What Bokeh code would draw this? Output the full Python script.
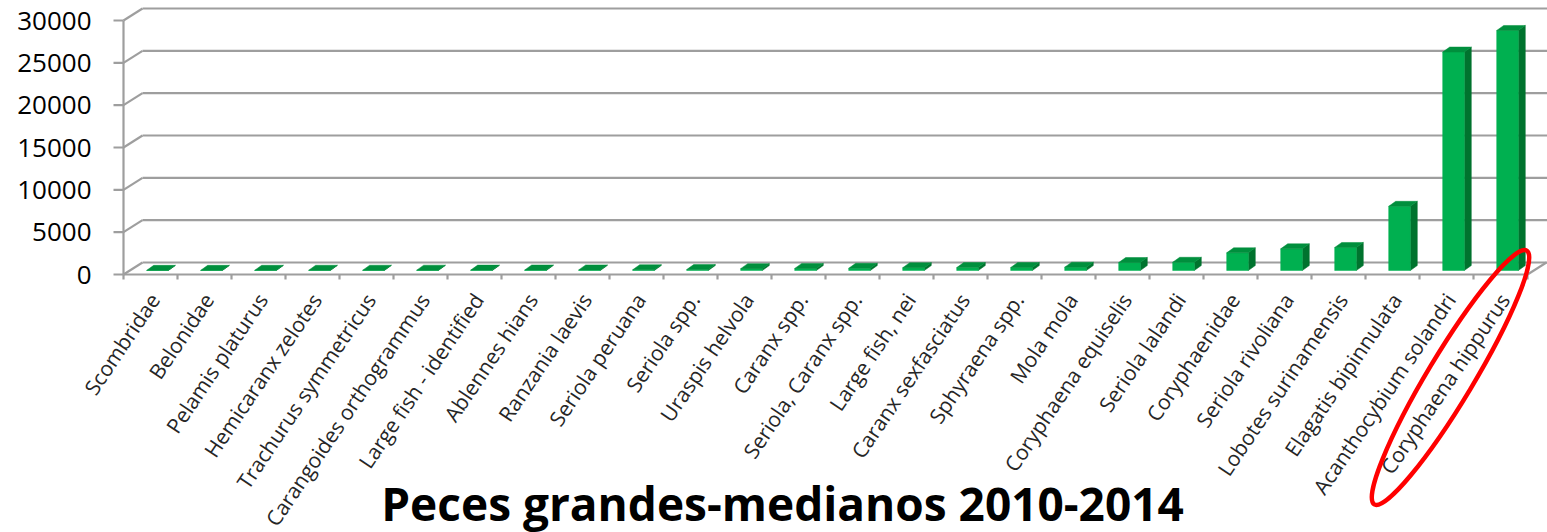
import math
import numpy as np
from bokeh.plotting import figure
from bokeh.models import ColumnDataSource, Range1d
from bokeh.core.properties import value
from bokeh.embed import file_html
from bokeh.resources import INLINE

# ---------------- data ----------------
categories = [
    "Scombridae", "Belonidae", "Pelamis platurus", "Hemicaranx zelotes",
    "Trachurus symmetricus", "Carangoides orthogrammus", "Large fish - identified",
    "Ablennes hians", "Ranzania laevis", "Seriola peruana", "Seriola spp.",
    "Uraspis helvola", "Caranx spp.", "Seriola, Caranx spp.", "Large fish, nei",
    "Caranx sexfasciatus", "Sphyraena spp.", "Mola mola", "Coryphaena equiselis",
    "Seriola lalandi", "Coryphaenidae", "Seriola rivoliana", "Lobotes surinamensis",
    "Elagatis bipinnulata", "Acanthocybium solandri", "Coryphaena hippurus",
]
values = [15, 20, 25, 30, 35, 40, 45, 60, 70, 90, 110, 220, 240, 260, 330, 340,
          350, 390, 940, 970, 2090, 2560, 2720, 7580, 25800, 28350]
y_ticks = [0, 5000, 10000, 15000, 20000, 25000, 30000]
y_tick_labels = [str(v) for v in y_ticks]
title_text = "Peces grandes-medianos  2010-2014"
highlight = "Coryphaena hippurus"

# ---------------- geometry (pixels) ----------------
W, H = 1547, 532
AX_LEFT = 123                 # pixel column of the front value axis
AX_BOTTOM = 274               # pixel row of value 0 on the front plane
PX_CAT = 54.0                 # pixels per category
VPP = 30000 / 254.0           # value per pixel
UPP = 1 / PX_CAT              # category units per pixel
XA = -0.5                     # data x of the front value axis
x0 = XA - AX_LEFT * UPP
x1 = x0 + W * UPP
y_lo = -(H - AX_BOTTOM) * VPP
y_hi = AX_BOTTOM * VPP

GRAY = "#9E9E9E"
LW = 2.2
FRONT, SIDE, TOP = "#00B050", "#00732E", "#008F3D"

p = figure(width=W, height=H, x_range=Range1d(x0, x1), y_range=Range1d(y_lo, y_hi),
           output_backend="svg", toolbar_location=None,
           x_axis_location=None, y_axis_location=None,
           min_border_left=0, min_border_right=0, min_border_top=0,
           min_border_bottom=0)
p.outline_line_color = None
p.xgrid.visible = False
p.ygrid.visible = False

n = len(categories)
idx = np.arange(n)
k = len(y_ticks)

# ---------------- 3D walls / floor ----------------
WDX, WDY = 19 * UPP, 12 * VPP
p.segment(x0=[XA + WDX] * k, y0=[v + WDY for v in y_ticks],
          x1=[x1] * k, y1=[v + WDY for v in y_ticks], line_color=GRAY, line_width=LW)
p.segment(x0=[XA] * k, y0=y_ticks, x1=[XA + WDX] * k,
          y1=[v + WDY for v in y_ticks], line_color=GRAY, line_width=LW)
p.segment(x0=[n - 0.5], y0=[0], x1=[n - 0.5 + WDX], y1=[WDY],
          line_color=GRAY, line_width=LW)

# ---------------- value axis (front) ----------------
p.segment(x0=[XA], y0=[0], x1=[XA], y1=[max(y_ticks)], line_color=GRAY, line_width=LW)
p.segment(x0=[XA - 10 * UPP] * k, y0=y_ticks, x1=[XA] * k, y1=y_ticks,
          line_color=GRAY, line_width=LW)
p.text(x=[XA - 32 * UPP] * k, y=y_ticks, text=y_tick_labels,
       text_align="right", text_baseline="middle",
       text_font=value("Open Sans"), text_font_size=value("26px"),
       text_color="#000000")

# ---------------- category axis (front) ----------------
p.segment(x0=[XA], y0=[0], x1=[n - 0.5], y1=[0], line_color=GRAY, line_width=LW)
bounds = np.arange(n + 1) - 0.5
p.segment(x0=bounds, y0=np.zeros(n + 1), x1=bounds, y1=np.full(n + 1, -5 * VPP),
          line_color=GRAY, line_width=LW)

# ---------------- 3D bars ----------------
BX, BY, HW = 7 * UPP, 4 * VPP, 10.8 * UPP
DXB, DYB = 7 * UPP, 5 * VPP
vals = np.array(values, dtype=float)
left = idx + BX - HW
right = idx + BX + HW
bottom = np.full(n, BY)
top = bottom + vals

side_xs = [[r, r + DXB, r + DXB, r] for r in right]
side_ys = [[b, b + DYB, t + DYB, t] for b, t in zip(bottom, top)]
top_xs = [[l, r, r + DXB, l + DXB] for l, r in zip(left, right)]
top_ys = [[t, t, t + DYB, t + DYB] for t in top]

p.patches(xs=side_xs, ys=side_ys, fill_color=SIDE, line_color=SIDE, line_width=0.5)
p.quad(left=left, right=right, bottom=bottom, top=top, fill_color=FRONT,
       line_color=FRONT, line_width=0.5)
p.patches(xs=top_xs, ys=top_ys, fill_color=TOP, line_color=TOP, line_width=0.5)

# ---------------- category labels ----------------
lbl_src = ColumnDataSource(dict(x=idx + 4 * UPP, y=np.full(n, -21 * VPP),
                                text=categories))
p.text(x="x", y="y", text="text", source=lbl_src, angle=math.radians(56),
       text_align="right", text_baseline="middle",
       text_font=value("Open Sans"), text_font_size=value("21px"),
       text_color="#262626")

# ---------------- title ----------------
p.text(x=[XA + (788 - AX_LEFT) * UPP], y=[-(502 - AX_BOTTOM) * VPP], text=[title_text],
       text_align="center", text_baseline="alphabetic",
       text_font=value("Open Sans"), text_font_style="bold",
       text_font_size=value("46px"), text_color="#000000")

# ---------------- red ellipse around highlighted label ----------------
hi = categories.index(highlight)
p.ellipse(x=[hi - 50 * UPP], y=[-103 * VPP], width=[296], height=[46],
          width_units="screen", height_units="screen", angle=math.radians(59),
          fill_color=None, line_color="#FF0000", line_width=4.5)

open("out.html", "w").write(file_html(p, INLINE))
